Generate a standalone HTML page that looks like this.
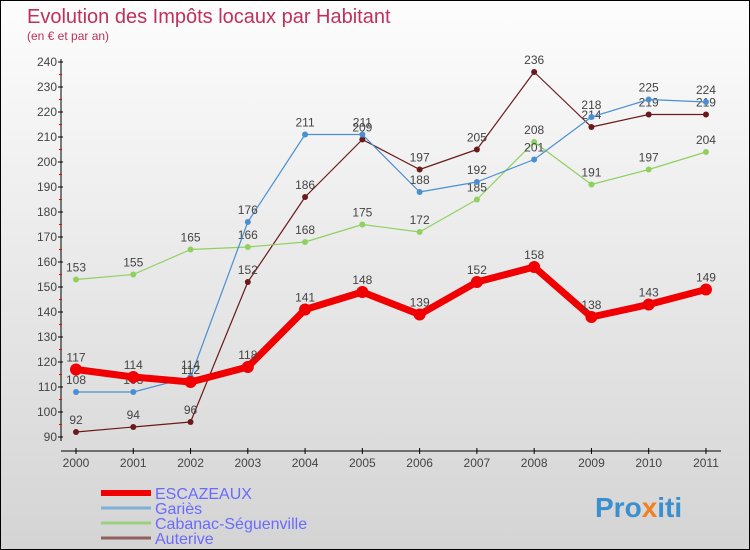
<!DOCTYPE html>
<html><head><meta charset="utf-8"><style>
body{margin:0;}
#c{width:750px;height:550px;position:relative;box-sizing:border-box;border:1px solid #000;background:linear-gradient(#fdfdfd,#d4d4d4);font-family:"Liberation Sans",sans-serif;overflow:hidden}
svg{position:absolute;left:0;top:0}
</style></head><body>
<div id="c">
<svg id="s" width="750" height="550">
<text x="26" y="22" font-size="20" fill="#c0305a">Evolution des Impôts locaux par Habitant</text>
<text x="26" y="39" font-size="12" fill="#c0305a">(en € et par an)</text>
<text x="594" y="516" font-size="28" font-weight="bold" fill="#3a8fd0">Pro<tspan fill="#f08020">x</tspan><tspan fill="#3a8fd0">iti</tspan></text>
</svg></div>
<script>
const years=["2000","2001","2002","2003","2004","2005","2006","2007","2008","2009","2010","2011"];
const yTicks=[90,100,110,120,130,140,150,160,170,180,190,200,210,220,230,240];
const escazeaux=[117,114,112,118,141,148,139,152,158,138,143,149];
const garies=[108,108,114,176,211,211,188,192,201,218,225,224];
const cabanac=[153,155,165,166,168,175,172,185,208,191,197,204];
const auterive=[92,94,96,152,186,209,197,205,236,214,219,219];
const NS="http://www.w3.org/2000/svg",s=document.getElementById('s');
const X=i=>75+i*57.27, Y=v=>436-(v-90)*2.5;
function el(t,a,n){const e=document.createElementNS(NS,t);for(const k in a)e.setAttribute(k,a[k]);


s.appendChild(e);return e;}
el('line',{x1:60,y1:58,x2:60,y2:440,stroke:'#000'},'y-axis');
el('line',{x1:60,y1:450,x2:720,y2:450,stroke:'#000'},'x-axis');
yTicks.forEach(v=>{el('line',{x1:57,x2:62,y1:Y(v),y2:Y(v),stroke:'#000'},'y-tick');
if(v<240)el('line',{x1:58,x2:61,y1:Y(v+5),y2:Y(v+5),stroke:'#e00'},'y-minor-tick');
const t=el('text',{x:56,y:Y(v)+4,'font-size':12,'text-anchor':'end',fill:'#444'},'y-tick-label');t.textContent=v;});
years.forEach((y,i)=>{el('line',{x1:X(i),x2:X(i),y1:447,y2:453,stroke:'#000'},'x-tick');
const t=el('text',{x:X(i),y:466,'font-size':12,'text-anchor':'middle',fill:'#444'},'x-tick-label');t.textContent=y;});
function series(d,col,w,r,name,lbl){
el('polyline',{points:d.map((v,i)=>X(i)+','+Y(v)).join(' '),fill:'none',stroke:col,'stroke-width':w,'stroke-linejoin':'round'},name+'-line');
d.forEach((v,i)=>{el('circle',{cx:X(i),cy:Y(v),r:r,fill:col},name+'-point');
const t=el('text',{x:X(i),y:Y(v)-8,'font-size':12,'text-anchor':'middle',fill:'#444'},name+'-value');t.textContent=v;});}
series(auterive,'#6b1a1a',1.2,3,'auterive');
series(cabanac,'#8fd060',1.2,3,'cabanac');
series(garies,'#4a90d0',1.2,3,'garies');
series(escazeaux,'#f00000',7,6,'escazeaux');
const leg=[['ESCAZEAUX','#f00000',6],['Gariès','#80b0d8',3],['Cabanac-Séguenville','#9ad080',3],['Auterive','#906060',3]];
leg.forEach((l,i)=>{const y=492+i*15;
el('line',{x1:100,x2:150,y1:y,y2:y,stroke:l[1],'stroke-width':l[2]},'legend-swatch');
const t=el('text',{x:154,y:y+6,'font-size':16,fill:'#6a6aff'},'legend-entry');t.textContent=l[0];});
</script>
</body></html>
